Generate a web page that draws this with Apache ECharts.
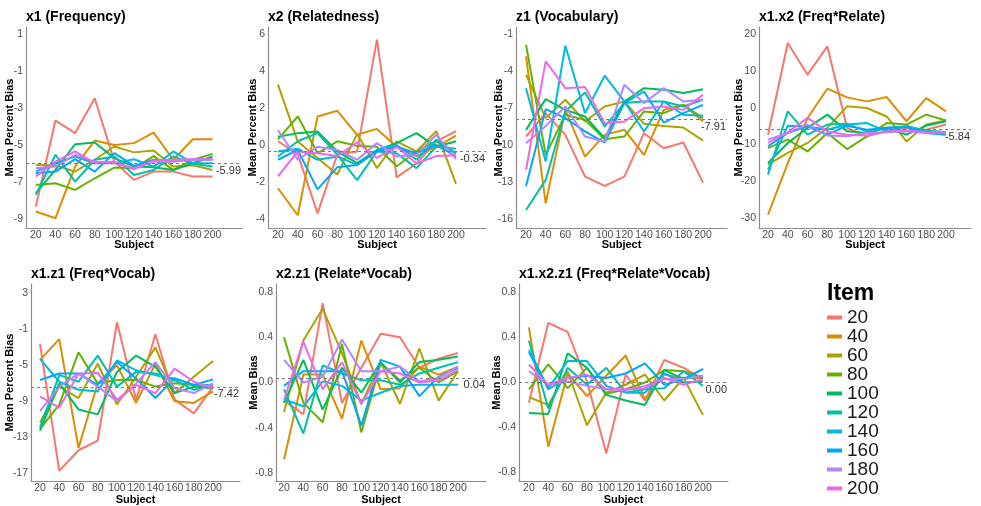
<!DOCTYPE html>
<html>
<head>
<meta charset="utf-8">
<script src="https://cdn.jsdelivr.net/npm/echarts@6/dist/echarts.min.js"></script>
<style>
html,body{margin:0;padding:0;background:#fff;}
#chart{width:981px;height:506px;}
</style>
</head>
<body>
<div id="chart"></div>
<script>
// ---------- DATA ----------
const subjects = [20, 40, 60, 80, 100, 120, 140, 160, 180, 200];
const items = ['20', '40', '60', '80', '100', '120', '140', '160', '180', '200'];

const panelTitles = ['x1 (Frequency)', 'x2 (Relatedness)', 'z1 (Vocabulary)', 'x1.x2 (Freq*Relate)',
  'x1.z1 (Freq*Vocab)', 'x2.z1 (Relate*Vocab)', 'x1.x2.z1 (Freq*Relate*Vocab)'];
const yTitles = ['Mean Percent Bias', 'Mean Percent Bias', 'Mean Percent Bias', 'Mean Percent Bias',
  'Mean Percent Bias', 'Mean Bias', 'Mean Bias'];
const xTitle = 'Subject';
const legendTitle = 'Item';

const yTicks1 = [-9, -7, -5, -3, -1, 1];
const yTicks2 = [-4, -2, 0, 2, 4, 6];
const yTicks3 = [-16, -13, -10, -7, -4, -1];
const yTicks4 = [-30, -20, -10, 0, 10, 20];
const yTicks5 = [-17, -13, -9, -5, -1, 3];
const yTicks6 = [-0.8, -0.4, 0.0, 0.4, 0.8];
const yTicks7 = [-0.8, -0.4, 0.0, 0.4, 0.8];

const refValues = [-5.99, -0.34, -7.91, -5.84, -7.42, 0.04, 0.00];

// rows = items 20..200, columns = subjects 20..200
const freqBias = [
  [-8.33, -3.68, -4.36, -2.47, -5.9, -6.89, -6.44, -6.44, -6.7, -6.7],
  [-8.6, -8.96, -6.17, -4.76, -5.0, -4.9, -4.33, -5.8, -4.69, -4.69],
  [-6.08, -6.1, -6.44, -5.8, -5.08, -5.4, -5.3, -6.17, -6.1, -6.35],
  [-7.16, -7.07, -7.43, -6.8, -6.22, -6.26, -5.6, -6.35, -5.8, -5.48],
  [-7.6, -6.35, -4.96, -4.87, -5.71, -6.17, -6.2, -6.35, -5.99, -5.62],
  [-7.7, -5.53, -6.98, -5.8, -5.62, -6.62, -6.35, -5.62, -6.02, -6.17],
  [-6.44, -5.99, -5.62, -5.99, -5.99, -5.77, -6.17, -5.35, -5.99, -5.99],
  [-6.53, -6.44, -5.77, -6.44, -5.44, -6.13, -5.8, -5.9, -5.77, -5.8],
  [-6.26, -6.17, -5.53, -5.9, -5.99, -6.26, -5.9, -5.9, -5.8, -5.8],
  [-6.7, -5.9, -5.35, -5.99, -5.9, -6.31, -5.84, -5.8, -5.77, -5.77]
];
const relateBias = [
  [0.2, -0.5, -3.7, -0.5, -0.35, 5.7, -1.75, -1.0, 0.2, 0.75],
  [-2.34, -3.8, 1.54, 1.85, 0.55, 0.87, -0.1, -0.6, -0.1, 0.5],
  [3.26, 0.19, -0.7, -1.6, 0.6, -1.25, 0.2, -0.35, 0.75, -2.1],
  [0.3, 1.55, -0.45, 0.2, -0.05, -0.1, -1.15, -0.35, 0.2, -0.45],
  [0.45, 0.64, 0.73, -0.35, -0.98, -0.27, 0.1, 0.64, -0.1, 0.2],
  [-0.62, 0.2, 0.64, -0.53, -1.9, -0.35, -0.45, -1.25, -0.1, -0.2],
  [-0.35, -0.2, -0.8, -0.62, -1.08, -0.27, 0.0, -0.8, 0.28, -0.45],
  [-0.8, -0.27, -2.4, -1.2, -1.08, -0.35, -0.1, -0.45, 0.0, -0.62],
  [0.8, -0.8, -0.1, -0.27, -0.8, 0.1, -0.62, -0.53, 0.55, -0.77],
  [-1.7, -0.35, -0.45, -0.6, 0.15, -0.7, -0.1, -1.0, -0.6, -0.55]
];
const vocabBias = [
  [-9.31, -7.42, -9.18, -12.56, -13.32, -12.56, -9.04, -10.26, -9.8, -13.05],
  [-2.81, -14.73, -7.15, -10.94, -9.18, -8.77, -10.8, -7.15, -6.74, -8.09],
  [-4.3, -7.82, -6.33, -8.09, -6.88, -6.47, -8.28, -8.45, -8.58, -9.64],
  [-1.87, -10.8, -7.55, -7.96, -9.53, -9.31, -7.28, -7.42, -6.74, -7.82],
  [-8.77, -6.28, -7.15, -7.69, -9.45, -6.47, -5.39, -5.52, -5.79, -5.47],
  [-15.27, -12.83, -7.28, -5.74, -8.5, -6.6, -6.47, -6.47, -6.88, -6.33],
  [-5.39, -11.34, -1.95, -7.42, -4.38, -6.47, -8.9, -6.47, -7.55, -7.63],
  [-13.32, -7.09, -7.82, -8.9, -9.8, -6.6, -5.66, -8.18, -7.42, -6.74],
  [-9.85, -8.45, -6.88, -9.31, -9.72, -5.12, -6.6, -5.39, -6.47, -6.33],
  [-12.02, -3.22, -5.39, -5.3, -8.23, -8.09, -7.01, -6.88, -7.15, -5.93]
];
const freqRelateBias = [
  [-7.36, 17.55, 8.95, 16.65, -5.54, -7.8, -6.45, -5.5, -6.0, -4.6],
  [-29.1, -15.05, -2.83, 5.14, 2.78, 1.7, 2.88, -3.7, 2.6, -1.0],
  [-15.5, -12.3, -9.6, -5.5, 0.34, -0.1, -2.4, -9.2, -4.6, -3.5],
  [-11.0, -8.7, -11.9, -6.9, -11.25, -7.8, -4.2, -4.6, -1.9, -3.5],
  [-15.05, -9.6, -5.5, -1.9, -6.45, -6.9, -5.5, -7.36, -4.9, -3.7],
  [-18.2, -1.0, -7.36, -4.6, -4.4, -6.45, -5.5, -5.1, -6.3, -6.6],
  [-16.9, -4.9, -5.1, -6.0, -4.6, -4.2, -6.45, -4.9, -6.45, -6.9],
  [-10.5, -6.9, -5.1, -7.36, -4.9, -6.0, -5.5, -5.3, -6.9, -7.36],
  [-8.7, -6.9, -4.6, -7.6, -7.8, -6.9, -6.7, -6.45, -6.9, -6.7],
  [-9.6, -6.7, -2.8, -6.45, -7.36, -7.6, -6.45, -6.2, -6.7, -6.9]
];
const freqVocabBias = [
  [-2.69, -16.75, -14.46, -13.38, -0.26, -8.85, -1.6, -8.85, -10.37, -7.4],
  [-4.43, -2.14, -14.2, -7.04, -5.04, -9.21, -4.86, -9.03, -9.21, -7.94],
  [-11.38, -7.4, -8.67, -4.86, -9.39, -6.31, -3.05, -8.12, -6.31, -4.57],
  [-12.1, -9.39, -3.6, -7.04, -6.67, -6.67, -7.4, -7.04, -7.22, -7.22],
  [-12.29, -7.04, -9.93, -10.48, -5.77, -3.96, -5.22, -8.12, -7.4, -7.58],
  [-11.93, -6.13, -6.86, -3.96, -7.4, -5.77, -5.95, -6.67, -7.76, -7.22],
  [-4.32, -6.86, -7.76, -7.94, -4.5, -5.59, -6.13, -6.49, -7.22, -7.22],
  [-6.67, -5.95, -5.95, -7.22, -4.68, -6.49, -8.67, -6.49, -7.22, -6.6],
  [-10.12, -7.4, -5.95, -7.4, -9.03, -7.04, -4.68, -7.58, -8.12, -7.04],
  [-8.49, -9.75, -5.95, -5.88, -8.85, -7.22, -8.12, -5.41, -6.86, -7.58]
];
const relateVocabBias = [
  [-0.16, -0.28, 0.70, -0.18, 0.13, 0.43, 0.40, 0.13, 0.21, 0.26],
  [-0.68, 0.07, 0.07, -0.32, 0.37, -0.06, -0.05, 0.14, 0.07, 0.14],
  [-0.26, 0.37, 0.65, 0.26, -0.19, 0.18, -0.19, 0.30, -0.16, 0.10],
  [0.40, -0.18, -0.35, 0.34, -0.44, 0.17, 0.02, 0.13, 0.0, 0.10],
  [-0.18, 0.20, -0.24, 0.13, -0.09, 0.18, 0.0, 0.18, 0.20, 0.23],
  [-0.06, -0.45, 0.15, 0.08, 0.02, 0.02, -0.02, 0.08, 0.13, 0.18],
  [-0.15, -0.21, 0.01, -0.03, -0.16, -0.09, -0.03, -0.02, -0.02, -0.02],
  [-0.03, 0.10, 0.10, 0.10, -0.38, 0.20, 0.14, -0.12, 0.05, 0.13],
  [0.20, 0.0, 0.05, 0.38, 0.10, 0.10, 0.14, 0.01, 0.04, 0.14],
  [-0.15, 0.36, -0.06, 0.18, -0.19, 0.10, 0.08, 0.0, 0.02, 0.11]
];
const freqRelateVocabBias = [
  [-0.18, 0.53, 0.45, 0.01, -0.63, 0.07, -0.16, 0.20, 0.13, 0.03],
  [0.49, -0.57, 0.08, -0.12, 0.06, 0.24, -0.15, 0.07, 0.04, 0.04],
  [-0.13, -0.20, 0.10, -0.38, -0.09, -0.02, 0.07, -0.16, 0.04, -0.29],
  [-0.06, 0.16, -0.05, 0.13, -0.10, -0.06, 0.0, 0.11, 0.10, 0.04],
  [-0.27, -0.28, 0.26, 0.13, -0.11, -0.16, -0.20, 0.11, 0.03, 0.06],
  [0.37, -0.23, 0.13, -0.02, 0.13, -0.09, -0.06, -0.05, 0.10, -0.03],
  [0.29, -0.05, 0.19, 0.19, -0.03, -0.09, -0.09, 0.08, 0.0, 0.01],
  [0.27, -0.06, 0.04, 0.06, 0.04, 0.08, 0.17, -0.02, 0.03, 0.12],
  [0.10, -0.02, 0.01, -0.03, -0.06, -0.07, -0.03, 0.03, 0.03, 0.06],
  [0.16, -0.02, 0.04, 0.07, -0.06, -0.06, -0.05, 0.04, -0.02, 0.03]
];

const panelData = [freqBias, relateBias, vocabBias, freqRelateBias, freqVocabBias, relateVocabBias, freqRelateVocabBias];
const panelTicks = [yTicks1, yTicks2, yTicks3, yTicks4, yTicks5, yTicks6, yTicks7];

// ---------- STYLE / LAYOUT ----------
const palette = ['#F8766D', '#DB8E00', '#AEA200', '#64B200', '#00BD5C', '#00C1A7', '#00BADE', '#00A6FF', '#B385FF', '#EF67EB'];
const layout = [
  {left: 26, top: 27, width: 216, height: 201, xMin: 10, xMax: 230, yMin: -9.49, yMax: 1.38, dec: 0, gapY: 10.5, gapX: 11},
  {left: 268, top: 27, width: 218, height: 201, xMin: 9.9, xMax: 230.3, yMin: -4.49, yMax: 6.38, dec: 0, gapY: 9.5, gapX: 11},
  {left: 516, top: 27, width: 211, height: 201, xMin: 9.8, xMax: 224.4, yMin: -16.73, yMax: -0.43, dec: 0, gapY: 11.5, gapX: 11},
  {left: 759, top: 27, width: 212, height: 201, xMin: 10.9, xMax: 225.3, yMin: -32.7, yMax: 21.9, dec: 0, gapY: 14.5, gapX: 11},
  {left: 31, top: 284, width: 209, height: 201, xMin: 10.6, xMax: 228, yMin: -17.87, yMax: 3.98, dec: 0, gapY: 15.5, gapX: 13},
  {left: 276, top: 284, width: 210, height: 201, xMin: 11.7, xMax: 229, yMin: -0.869, yMax: 0.869, dec: 1, gapY: 16.5, gapX: 13},
  {left: 519, top: 284, width: 209, height: 201, xMin: 9.7, xMax: 225.9, yMin: -0.875, yMax: 0.875, dec: 1, gapY: 16.5, gapX: 13}
];
const FONT = '"Liberation Sans", Arial, sans-serif';
const axisColor = '#8c8c8c';
const labelColor = '#4d4d4d';

const grids = [], xAxes = [], yAxes = [], series = [], titles = [];
layout.forEach((L, p) => {
  grids.push({left: L.left, top: L.top, width: L.width, height: L.height, containLabel: false});
  titles.push({
    text: panelTitles[p], left: L.left, top: L.top - 17, padding: 0,
    textStyle: {fontFamily: FONT, fontSize: 14, fontWeight: 'bold', color: '#000'}
  });
  xAxes.push({
    type: 'value', gridIndex: p, min: L.xMin, max: L.xMax,
    name: xTitle, nameLocation: 'middle', nameGap: L.gapX, nameMoveOverlap: false,
    nameTextStyle: {fontFamily: FONT, fontSize: 11, fontWeight: 'bold', color: '#000'},
    axisLine: {show: true, onZero: false, lineStyle: {color: axisColor, width: 1.2}},
    axisTick: {show: false},
    splitLine: {show: false},
    axisLabel: {customValues: subjects, fontFamily: FONT, fontSize: 10.5, color: labelColor, margin: 2}
  });
  yAxes.push({
    type: 'value', gridIndex: p, min: L.yMin, max: L.yMax,
    name: yTitles[p], nameLocation: 'middle', nameGap: L.gapY, nameRotate: 90, nameMoveOverlap: false,
    nameTextStyle: {fontFamily: FONT, fontSize: 11, fontWeight: 'bold', color: '#000'},
    axisLine: {show: true, onZero: false, lineStyle: {color: axisColor, width: 1.2}},
    axisTick: {show: false},
    splitLine: {show: false},
    axisLabel: {
      customValues: panelTicks[p], fontFamily: FONT, fontSize: 10.5, color: labelColor, margin: 3,
      formatter: (v) => Number(v).toFixed(L.dec)
    }
  });
  panelData[p].forEach((vals, i) => {
    const s = {
      name: items[i], type: 'line', xAxisIndex: p, yAxisIndex: p,
      data: subjects.map((x, k) => [x, vals[k]]),
      showSymbol: false, symbol: 'none', silent: true,
      lineStyle: {width: 2, color: palette[i]},
      itemStyle: {color: palette[i]},
      emphasis: {disabled: true},
      z: 2
    };
    if (i === 0) {
      s.markLine = {
        silent: true, symbol: 'none', animation: false,
        lineStyle: {type: [3, 3], color: '#7a7a7a', width: 1},
        label: {
          show: true, position: 'insideEndBottom', distance: [1, 2],
          formatter: () => refValues[p].toFixed(2),
          fontFamily: FONT, fontSize: 11, color: '#333'
        },
        data: [{yAxis: refValues[p]}]
      };
    }
    series.push(s);
  });
});

titles.push({
  text: legendTitle, left: 827, top: 282, padding: 0,
  textStyle: {fontFamily: FONT, fontSize: 23, fontWeight: 'bold', color: '#000'}
});

const chart = echarts.init(document.getElementById('chart'), null, {renderer: 'canvas'});
chart.setOption({
  animation: false,
  backgroundColor: '#fff',
  title: titles,
  grid: grids,
  xAxis: xAxes,
  yAxis: yAxes,
  legend: {
    data: items, orient: 'vertical', left: 827, top: 308, height: 198, padding: 0,
    icon: 'rect', itemWidth: 15, itemHeight: 4, itemGap: 0,
    selectedMode: false,
    textStyle: {fontFamily: FONT, fontSize: 19, color: '#1a1a1a', lineHeight: 18.7}
  },
  series: series
});
</script>
</body>
</html>
